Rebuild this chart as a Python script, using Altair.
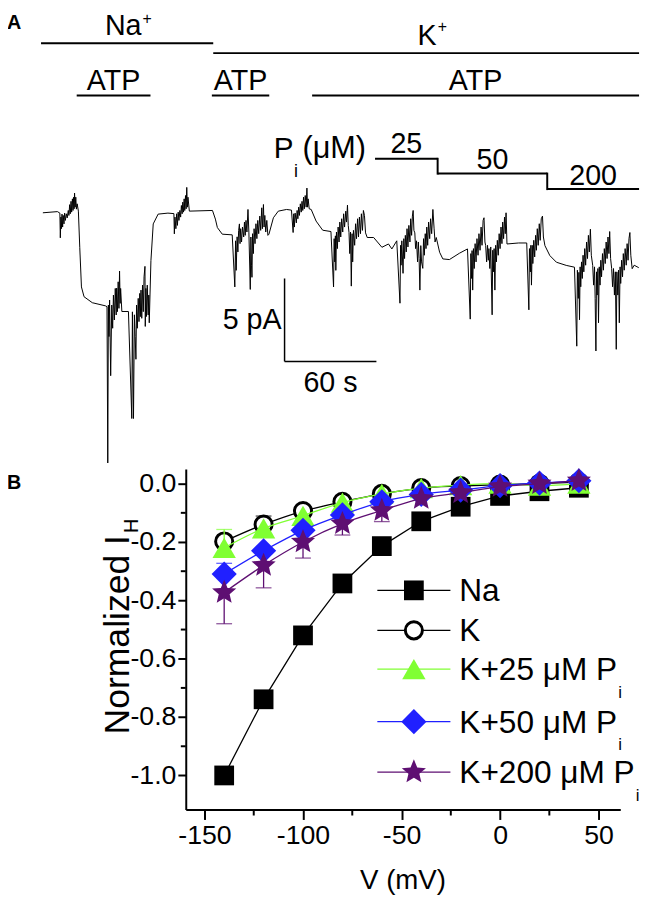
import altair as alt
import pandas as pd

FONT = "Liberation Sans"
GREEN = "#80FF33"
BLUE = "#2020FF"
PURPLE = "#5E0F72"
STAR = ("M0,-1L0.2645,-0.364L0.951,-0.309L0.428,0.139L0.588,0.809L0,0.45L-0.588,0.809"
        "L-0.428,0.139L-0.951,-0.309L-0.2645,-0.364Z")

# ---------------- Panel A data (time in s, current in pA) ----------------
trace_samples = [
    (0.2, -0.04), (9.7, 0.03), (11.3, -0.06), (11.6, -1.55), (12.0, -0.3), (12.3, -1.0), (12.7, -0.12),
    (13.1, -0.9), (13.5, -0.2), (14.0, -0.71), (14.4, -0.06), (14.9, -0.5), (15.5, -0.1), (16.1, -0.35),
    (16.8, 0.1), (17.2, -0.2), (17.7, 0.45), (18.1, -0.1), (18.6, 0.65), (19.0, 0.0), (19.5, 0.8),
    (19.9, 0.1), (20.3, 0.9), (20.6, 0.2), (20.9, 1.15), (21.3, 0.3), (21.7, 0.9), (22.1, 0.18),
    (22.6, 0.5), (23.4, 0.06),
    (24.3, -2.12), (25.4, -4.51), (27.1, -5.10), (32.5, -5.46), (41.1, -5.65), (42.1, -5.70),
    (42.6, -15.12), (43.0, -5.6), (43.4, -7.5), (43.8, -5.3), (44.5, -9.86), (45.2, -5.6), (45.8, -7.0),
    (46.3, -5.0), (46.9, -6.5), (47.5, -4.6), (48.1, -6.2), (48.4, -4.58), (48.9, -6.0), (49.4, -4.2),
    (49.9, -5.8), (50.3, -3.55), (50.7, -5.5), (51.0, -4.6), (51.8, -5.99), (56.1, -5.99),
    (58.3, -12.44), (58.7, -6.01), (59.4, -12.44), (60.0, -6.19), (60.5, -7.5), (61.0, -8.87),
    (61.4, -5.6), (61.9, -7.0), (62.5, -5.2), (63.0, -6.6), (63.5, -4.9), (63.9, -6.3), (64.3, -4.7),
    (64.8, -6.4), (65.3, -4.4), (65.8, -6.0), (66.3, -3.9), (66.9, -3.27), (67.1, -6.89), (67.5, -4.6),
    (67.9, -6.29), (68.4, -4.4), (69.0, -6.2), (69.4, -5.0), (69.7, -6.67), (70.8, -2.92), (72.3, -0.71),
    (75.5, -0.12), (81.9, -0.06),
    (85.8, -0.09), (86.1, -1.31), (86.5, -0.3), (87.1, -1.0), (87.6, -0.1), (88.1, -0.8), (88.6, 0.0),
    (89.1, -0.5), (89.7, 0.1), (90.2, -0.3), (90.7, 0.4), (91.2, -0.1), (91.6, 0.6), (92.1, 0.0),
    (92.5, 0.8), (92.9, 0.1), (93.4, 1.0), (93.8, 0.2), (94.2, 1.49), (94.6, 0.3), (95.0, 0.9),
    (95.9, 0.06), (111.0, 0.10),
    (112.9, -0.42), (114.2, -0.93), (117.4, -1.33), (123.9, -1.37),
    (125.6, -4.51), (126.1, -1.73), (126.5, -3.51), (127.1, -1.49), (127.6, -2.4), (128.1, -1.1),
    (128.6, -0.71), (129.0, -1.9), (129.4, -1.0), (130.0, -1.8), (130.6, -0.9), (131.4, -1.5),
    (131.9, -0.6), (132.4, -1.4), (132.9, -0.5), (133.5, -1.2), (134.2, 0.16), (134.8, -1.25),
    (135.7, -4.66), (136.1, -1.5), (136.5, -3.2), (136.8, -3.93), (137.2, -1.3), (137.7, -2.5),
    (138.2, -1.0), (138.8, -1.9), (139.4, -0.7), (140.0, -1.6), (140.6, -0.5), (141.2, -1.3),
    (141.9, -0.24), (142.5, -1.1), (143.2, 0.26), (143.6, -1.0), (144.3, 0.46), (144.7, -0.9),
    (145.2, -0.2), (145.8, -1.2), (146.5, -0.5), (147.2, -1.4), (147.9, -1.33), (150.8, -0.34),
    (154.0, 0.06), (159.4, 0.16), (162.6, 0.12),
    (163.7, -1.23), (164.1, -0.1), (164.5, -0.9), (165.0, -0.06), (165.8, -0.65), (166.3, 0.1),
    (166.8, -0.4), (167.3, 0.3), (167.8, -0.2), (168.4, 0.5), (169.0, 0.0), (169.5, 0.65), (170.0, 0.1),
    (170.5, 0.9), (171.0, 0.2), (171.6, 1.0), (172.2, 0.3), (172.7, 1.45), (173.1, 0.3), (173.5, 0.8),
    (174.2, 0.2), (175.5, 0.16), (178.7, -0.54), (183.0, -1.09), (188.4, -1.17),
    (190.1, -4.51), (190.5, -1.6), (190.9, -3.0), (191.3, -1.43), (191.6, -3.51), (192.0, -1.2),
    (192.6, -2.2), (193.1, -0.9), (193.7, -1.8), (194.2, -0.6), (194.8, -1.5), (195.4, -0.4),
    (196.1, -1.2), (196.7, -0.1), (197.3, -0.9), (198.1, 0.06), (198.6, -0.6), (199.2, 0.42),
    (199.7, -0.8), (200.2, -1.23), (200.7, -2.5), (201.2, -1.2), (201.7, -4.46), (202.2, -1.3),
    (202.6, -3.0), (203.1, -1.1), (203.9, -2.0), (204.5, -0.7), (205.1, -1.6), (205.8, -0.4),
    (206.4, -1.5), (207.0, -0.3), (207.7, -1.3), (208.3, -0.1), (209.0, -1.1), (209.6, 0.1),
    (210.3, -0.20), (211.0, -1.25), (212.1, -1.53), (216.3, -1.53), (221.7, -2.12), (226.0, -1.92),
    (228.2, -2.22), (231.4, -1.73),
    (233.5, -5.49), (233.9, -2.0), (234.2, -3.2), (234.7, -1.73), (235.5, -3.69), (236.0, -1.6),
    (236.5, -2.8), (237.0, -1.4), (237.6, -2.4), (238.1, -1.0), (238.7, -2.1), (239.3, -0.8),
    (240.0, -1.8), (240.5, -0.4), (241.1, -1.4), (241.6, -0.24), (242.1, 0.10), (242.6, -1.1),
    (243.2, -1.25), (243.7, -2.2), (244.3, -1.73), (245.0, -3.0), (245.5, -1.8), (246.0, -2.8),
    (246.5, -4.70), (247.1, -2.02), (247.6, -3.0), (248.4, -3.39), (248.9, -1.6), (249.4, -2.6),
    (250.0, -1.3), (250.5, -2.2), (251.0, -0.9), (251.6, -2.0), (252.2, -0.6), (252.9, -1.6),
    (253.5, -0.4), (254.2, -1.3), (255.0, 0.16), (255.8, -1.01), (256.4, -1.8), (257.2, -1.53),
    (259.4, -2.42), (261.5, -2.82), (265.8, -2.86), (272.3, -2.48), (277.6, -2.22),
    (279.4, -6.45), (279.8, -2.5), (280.3, -4.0), (280.6, -2.32), (281.0, -4.70), (281.5, -2.2),
    (282.0, -3.4), (282.6, -1.9), (283.2, -3.0), (283.8, -1.6), (284.5, -2.6), (285.1, -1.3),
    (285.8, -2.3), (286.5, -0.9), (287.1, -2.0), (287.8, -0.5), (288.4, -0.34), (289.0, -1.8),
    (289.5, -2.02), (290.1, -3.0), (290.7, -2.0), (291.2, -2.9), (291.6, -2.2), (292.2, -3.4),
    (292.8, -2.1), (293.7, -6.19), (294.1, -2.3), (294.5, -3.6), (295.0, -2.2), (295.5, -4.70),
    (296.0, -2.0), (296.5, -3.0), (297.1, -1.7), (297.7, -2.6), (298.3, -1.3), (298.9, -2.2),
    (299.5, -0.9), (300.1, -1.9), (300.6, -0.6), (301.2, -1.6), (301.8, -0.3), (302.3, -1.3),
    (302.8, -0.04), (303.4, -1.92), (311.0, -1.86), (316.3, -1.86),
    (317.7, -5.89), (318.1, -2.2), (318.7, -3.6), (319.0, -2.0), (319.4, -4.40), (319.9, -2.0),
    (320.3, -3.1), (320.9, -1.7), (321.5, -2.7), (322.1, -1.4), (322.6, -2.3), (323.2, -1.0),
    (323.8, -2.0), (324.5, -0.7), (325.1, -1.7), (325.8, -0.4), (326.6, -0.24), (327.2, -1.5),
    (328.2, -2.02), (331.4, -2.62), (335.7, -3.02), (342.1, -3.21), (347.5, -3.32),
    (349.0, -8.08), (349.4, -3.5), (350.0, -5.2), (350.4, -3.63), (350.8, -6.49), (351.2, -3.3),
    (351.6, -4.5), (352.1, -3.0), (352.6, -4.0), (353.1, -2.6), (353.6, -3.6), (354.2, -2.2),
    (354.8, -3.2), (355.4, -1.8), (356.0, -2.8), (356.6, -1.4), (357.2, -2.4), (357.9, -1.03),
    (358.5, -2.6), (359.4, -3.21), (360.0, -4.4), (360.6, -3.3), (361.0, -5.2), (361.5, -8.37),
    (361.9, -3.6), (362.3, -5.0), (362.8, -3.4), (363.2, -6.67), (363.7, -3.3), (364.2, -4.4),
    (364.7, -2.9), (365.2, -3.9), (365.8, -2.5), (366.4, -3.5), (367.0, -2.2), (367.6, -3.1),
    (368.2, -1.8), (368.8, -2.8), (369.4, -1.5), (370.0, -2.5), (370.5, -1.17), (371.1, -2.8),
    (371.8, -3.41), (372.4, -4.5), (373.0, -3.4), (373.6, -5.0), (374.2, -3.6), (374.8, -8.27),
    (375.2, -3.6), (375.8, -5.0), (376.3, -3.5), (376.8, -6.67), (377.3, -3.3), (377.7, -4.3),
    (378.3, -2.9), (378.9, -3.9), (379.4, -2.5), (380.0, -3.5), (380.6, -2.2), (381.3, -3.2),
    (381.9, -1.9), (382.5, -2.9), (383.1, -1.6), (383.7, -1.23), (384.3, -2.6), (385.2, -3.41),
    (386.5, -3.2), (389.5, -3.35),
]

solution_names = ["Na", "K"]
solution_start_s = [-1.0, 111.5]
solution_end_s = [111.5, 389.7]

atp_start_s = [22.3, 110.6, 176.1]
atp_end_s = [70.5, 148.1, 389.7]

pi_labels = ["25", "50", "200"]
pi_start_s = [217.2, 258.1, 329.7]
pi_end_s = [258.1, 329.7, 389.7]

scalebar_time_s = 60
scalebar_current_pa = 5
scalebar_origin_t = 158.1
scalebar_origin_i = -4.0

# ---------------- Panel B data ----------------
voltage_mv = [-140, -120, -100, -80, -60, -40, -20, 0, 20, 40]
ih_na = [-1.0, -0.739, -0.52, -0.342, -0.214, -0.129, -0.079, -0.042, -0.026, -0.014]
ih_k = [-0.198, -0.14, -0.094, -0.062, -0.035, -0.015, -0.008, -0.003, 0.0, 0.005]
ih_k25 = [-0.22, -0.153, -0.11, -0.065, -0.035, -0.015, -0.005, 0.0, -0.007, 0.0]
ih_k50 = [-0.31, -0.23, -0.16, -0.107, -0.062, -0.037, -0.022, -0.007, 0.002, 0.01]
ih_k200 = [-0.373, -0.28, -0.2, -0.137, -0.092, -0.051, -0.031, -0.01, 0.0, 0.01]

err_v_k = [-120]
err_end_k = [-0.111]
err_v_k25 = [-140]
err_end_k25 = [-0.157]
err_v_k50 = [-140]
err_end_k50 = [-0.273]
err_v_k200 = [-140, -120, -100, -80, -60]
err_end_k200 = [-0.48, -0.357, -0.255, -0.176, -0.13]

legend_labels = ["Na", "K", "K+25 \u03bcM P", "K+50 \u03bcM P", "K+200 \u03bcM P"]
legend_sub = ["", "", "i", "i", "i"]

x_ticks = [-150, -100, -50, 0, 50]
x_minor = [-125, -75, -25, 25]
y_ticks = [-1.0, -0.8, -0.6, -0.4, -0.2, 0.0]
y_minor = [-0.9, -0.7, -0.5, -0.3, -0.1]

# ---------------- layout constants (pixels from plot origin) ----------------
W, H = 606, 806
SOL_Y = [30, 40]
SOL_LABEL_Y = [21.5, 32]
SOL_PLUS_Y = [10, 19]
SOL_DX = [-4, 1]
ATP_Y, ATP_LABEL_Y = 83, 77
PI_Y = [147, 162, 177.7]
PI_LABEL_Y = [141, 157, 174]
LEG_ROWS = [584, 624.5, 663.7, 717, 768]
LEG_X0, LEG_X1, LEG_SYM, LEG_TEXT = 340, 414, 377, 423
LEG_FS = 32
TICK_FS = 27

CHAR_W = {"K": .667, "+": .584, " ": .278, "\u03bc": .576, "M": .833, "P": .667,
          "N": .722, "a": .556, "o": .556, "r": .333, "m": .833, "l": .222, "i": .222,
          "z": .5, "e": .556, "d": .556, "I": .278}


def text_w(s, size):
    return sum(CHAR_W.get(c, .556) for c in s) * size


tA = alt.Scale(domain=[0, 390], range=[1, 605.5], nice=False, zero=False)
iA = alt.Scale(domain=[-16, 2], range=[469.8, 167.4], nice=False, zero=False)


def XA(f):
    return alt.X(f, type="quantitative", scale=tA, axis=None)


def YA(f):
    return alt.Y(f, type="quantitative", scale=iA, axis=None)


one = pd.DataFrame({"a": [0]})

layersA = []
tr_df = pd.DataFrame(trace_samples, columns=["t", "I"])
tr_df["k"] = range(len(tr_df))
layersA.append(alt.Chart(tr_df).mark_line(color="black", strokeWidth=1).encode(
    x=XA("t"), y=YA("I"), order="k:Q"))

sol_df = pd.DataFrame({"name": solution_names, "start": solution_start_s, "end": solution_end_s})
sol_df["mid"] = (sol_df["start"] + sol_df["end"]) / 2
for i in range(len(sol_df)):
    d = sol_df.iloc[[i]]
    nm = solution_names[i]
    layersA.append(alt.Chart(d).mark_rule(color="black", strokeWidth=2).encode(
        x=XA("start"), x2="end", y=alt.value(SOL_Y[i])))
    layersA.append(alt.Chart(d).mark_text(font=FONT, fontSize=29, align="center", dx=SOL_DX[i],
                                          baseline="alphabetic", color="black").encode(
        x=XA("mid"), y=alt.value(SOL_LABEL_Y[i]), text="name:N"))
    layersA.append(alt.Chart(d).mark_text(font=FONT, fontSize=16, align="left",
                                          dx=text_w(nm, 29) / 2 + SOL_DX[i] + 1, baseline="alphabetic",
                                          color="black").encode(
        x=XA("mid"), y=alt.value(SOL_PLUS_Y[i]), text=alt.value("+")))

atp_df = pd.DataFrame({"start": atp_start_s, "end": atp_end_s})
atp_df["mid"] = (atp_df["start"] + atp_df["end"]) / 2
atp_df["label"] = "ATP"
layersA.append(alt.Chart(atp_df).mark_rule(color="black", strokeWidth=2).encode(
    x=XA("start"), x2="end", y=alt.value(ATP_Y)))
layersA.append(alt.Chart(atp_df).mark_text(font=FONT, fontSize=29, align="center",
                                           baseline="alphabetic", color="black").encode(
    x=XA("mid"), y=alt.value(ATP_LABEL_Y), text="label:N"))

pi_df = pd.DataFrame({"conc": pi_labels, "start": pi_start_s, "end": pi_end_s})
pi_df["mid"] = (pi_df["start"] + pi_df["end"]) / 2
for i in range(len(pi_df)):
    d = pi_df.iloc[[i]]
    layersA.append(alt.Chart(d).mark_rule(color="black", strokeWidth=2).encode(
        x=XA("start"), x2="end", y=alt.value(PI_Y[i])))
    layersA.append(alt.Chart(d).mark_text(font=FONT, fontSize=29, align="center",
                                          baseline="alphabetic", color="black").encode(
        x=XA("mid"), y=alt.value(PI_LABEL_Y[i]), text="conc:N"))
    if i > 0:
        layersA.append(alt.Chart(d).mark_rule(color="black", strokeWidth=2).encode(
            x=XA("start"), y=alt.value(PI_Y[i - 1] - 1), y2=alt.value(PI_Y[i] + 1)))
d0 = pi_df.iloc[[0]]
for txt, dx, yy, fs in [("P", -102.5, 146, 30), ("i", -82, 165, 18), ("(\u03bcM)", -73.5, 146, 31)]:
    layersA.append(alt.Chart(d0).mark_text(font=FONT, fontSize=fs, align="left", dx=dx,
                                           baseline="alphabetic", color="black").encode(
        x=XA("start"), y=alt.value(yy), text=alt.value(txt)))

sb = pd.DataFrame({"t0": [scalebar_origin_t], "t1": [scalebar_origin_t + scalebar_time_s],
                   "i0": [scalebar_origin_i], "i1": [scalebar_origin_i - scalebar_current_pa]})
sb["tm"] = (sb["t0"] + sb["t1"]) / 2
sb["im"] = (sb["i0"] + sb["i1"]) / 2
sb["lab_i"] = f"{scalebar_current_pa} pA"
sb["lab_t"] = f"{scalebar_time_s} s"
layersA.append(alt.Chart(sb).mark_rule(color="black", strokeWidth=1.5).encode(
    x=XA("t0"), y=YA("i0"), y2="i1"))
layersA.append(alt.Chart(sb).mark_rule(color="black", strokeWidth=1.5).encode(
    x=XA("t0"), x2="t1", y=YA("i1")))
layersA.append(alt.Chart(sb).mark_text(font=FONT, fontSize=29, align="right", dx=-3,
                                       baseline="middle", color="black").encode(
    x=XA("t0"), y=YA("im"), text="lab_i:N"))
layersA.append(alt.Chart(sb).mark_text(font=FONT, fontSize=29, align="center", dy=8,
                                       baseline="top", color="black").encode(
    x=XA("tm"), y=YA("i1"), text="lab_t:N"))
layersA.append(alt.Chart(one).mark_text(font=FONT, fontSize=20, fontWeight="bold", align="left",
                                        baseline="alphabetic", color="black").encode(
    x=alt.value(-35), y=alt.value(16), text=alt.value("A")))

panelA = alt.layer(*layersA)

# ---------------- Panel B ----------------
vB = alt.Scale(domain=[-159.5, 61], range=[146, 586], nice=False, zero=False)
yB = alt.Scale(domain=[-1.117, 0.05], range=[806, 461.2], nice=False, zero=False)

AX = alt.Axis(orient="bottom", values=x_ticks, title=None, grid=False,
              labelExpr="(datum.value < 0 ? '-' : '') + format(abs(datum.value), 'd')",
              labelFont=FONT, labelFontSize=TICK_FS, labelColor="black", labelPadding=3,
              labelFlush=False, labelOverlap=False, tickSize=10, tickWidth=2, tickColor="black",
              domainColor="black", domainWidth=2)
AY = alt.Axis(orient="left", offset=-146, values=y_ticks, title=None, grid=False,
              labelExpr="(datum.value < 0 ? '-' : '') + format(abs(datum.value), '.1f')",
              labelFont=FONT, labelFontSize=TICK_FS, labelColor="black", labelPadding=2,
              labelFlush=False, labelOverlap=False, tickSize=8, tickWidth=2, tickColor="black",
              domainColor="black", domainWidth=2)


def XB(f):
    return alt.X(f, type="quantitative", scale=vB, axis=AX)


def YB(f):
    return alt.Y(f, type="quantitative", scale=yB, axis=AY)


layersB = []
layersB.append(alt.Chart(pd.DataFrame({"v": x_minor})).mark_rule(color="black", strokeWidth=2).encode(
    x=XB("v"), y=alt.value(H), y2=alt.value(H + 6)))
layersB.append(alt.Chart(pd.DataFrame({"y": y_minor})).mark_rule(color="black", strokeWidth=2).encode(
    y=YB("y"), x=alt.value(146), x2=alt.value(141)))

series = [
    (ih_na, None, None, "black", dict(shape="square", filled=True, color="black", size=400), "linear"),
    (ih_k, err_v_k, err_end_k, "black",
     dict(shape="circle", filled=True, fill="white", stroke="black", strokeWidth=3, size=300), "monotone"),
    (ih_k25, err_v_k25, err_end_k25, GREEN, dict(shape="triangle-up", filled=True, color=GREEN, size=560), "monotone"),
    (ih_k50, err_v_k50, err_end_k50, BLUE, dict(shape="diamond", filled=True, color=BLUE, size=650), "monotone"),
    (ih_k200, err_v_k200, err_end_k200, PURPLE, dict(shape=STAR, filled=True, color=PURPLE, size=660), "monotone"),
]

for vals, ev, ee, col, pstyle, interp in series:
    df = pd.DataFrame({"V": voltage_mv, "IH": vals})
    layersB.append(alt.Chart(df).mark_line(color=col, strokeWidth=1.3, interpolate=interp).encode(
        x=XB("V"), y=YB("IH")))
    if ev:
        mean = dict(zip(voltage_mv, vals))
        edf = pd.DataFrame({"V": ev, "end": ee, "IH": [mean[v] for v in ev]})
        layersB.append(alt.Chart(edf).mark_rule(color=col, strokeWidth=1.3).encode(
            x=XB("V"), y=YB("IH"), y2="end"))
        layersB.append(alt.Chart(edf).mark_tick(color=col, orient="horizontal", size=16, thickness=1.3).encode(
            x=XB("V"), y=YB("end")))
    layersB.append(alt.Chart(df).mark_point(opacity=1, **pstyle).encode(x=XB("V"), y=YB("IH")))

# legend
for i, (lab, sub) in enumerate(zip(legend_labels, legend_sub)):
    col = series[i][3]
    pstyle = series[i][4]
    ry = LEG_ROWS[i]
    layersB.append(alt.Chart(one).mark_rule(color=col, strokeWidth=1.3).encode(
        x=alt.value(LEG_X0), x2=alt.value(LEG_X1), y=alt.value(ry)))
    layersB.append(alt.Chart(one).mark_point(opacity=1, **pstyle).encode(
        x=alt.value(LEG_SYM), y=alt.value(ry)))
    layersB.append(alt.Chart(one).mark_text(font=FONT, fontSize=LEG_FS, align="left", baseline="alphabetic",
                                            color="black").encode(
        x=alt.value(LEG_TEXT), y=alt.value(ry + 11), text=alt.value(lab)))
    if sub:
        layersB.append(alt.Chart(one).mark_text(font=FONT, fontSize=17, align="left", baseline="alphabetic",
                                                color="black").encode(
            x=alt.value(LEG_TEXT + text_w(lab, LEG_FS) + 1), y=alt.value(ry + 29), text=alt.value(sub)))

# axis titles and panel label
TITLE_FS = 36
TITLE_X, TITLE_Y0 = 89, 730
layersB.append(alt.Chart(one).mark_text(font=FONT, fontSize=TITLE_FS, angle=270, align="left",
                                        baseline="alphabetic", color="black").encode(
    x=alt.value(TITLE_X), y=alt.value(TITLE_Y0), text=alt.value("Normalized I")))
layersB.append(alt.Chart(one).mark_text(font=FONT, fontSize=20, angle=270, align="left",
                                        baseline="alphabetic", color="black").encode(
    x=alt.value(TITLE_X + 9), y=alt.value(TITLE_Y0 - text_w("Normalized I", TITLE_FS) - 2),
    text=alt.value("H")))
layersB.append(alt.Chart(one).mark_text(font=FONT, fontSize=28, align="center", baseline="alphabetic",
                                        color="black").encode(
    x=alt.value(366), y=alt.value(886), text=alt.value("V (mV)")))
layersB.append(alt.Chart(one).mark_text(font=FONT, fontSize=20, fontWeight="bold", align="left",
                                        baseline="alphabetic", color="black").encode(
    x=alt.value(-35), y=alt.value(481), text=alt.value("B")))

panelB = alt.layer(*layersB)

chart = alt.layer(panelA, panelB).resolve_scale(x="independent", y="independent").properties(
    width=W, height=H,
    autosize=alt.AutoSizeParams(type="none"),
    padding={"left": 34, "top": 0, "right": 2, "bottom": 97},
).configure_view(stroke=None)

chart.save("out.html", embed_options={"renderer": "svg", "actions": False})
